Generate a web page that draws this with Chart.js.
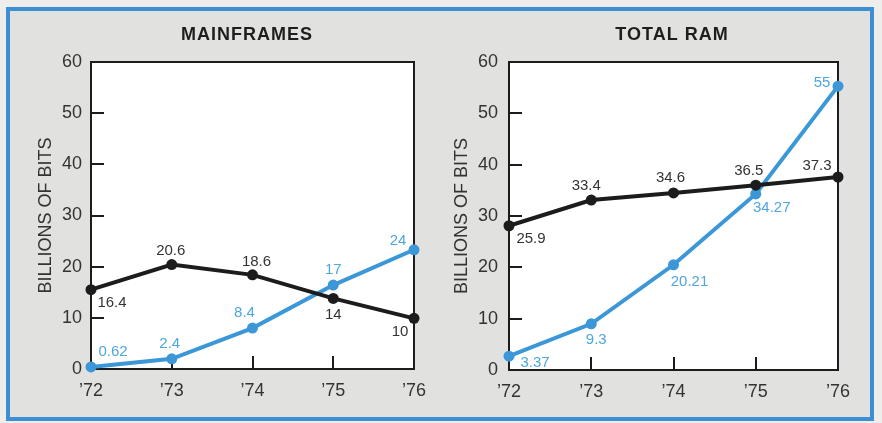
<!DOCTYPE html>
<html>
<head>
<meta charset="utf-8">
<script src="https://cdn.jsdelivr.net/npm/chart.js@4.4.0/dist/chart.umd.min.js"></script>
<style>
  html, body { margin: 0; padding: 0; }
  body { width: 882px; height: 423px; background: #ededeb; position: relative; overflow: hidden; }
  #frame { position: absolute; left: 6px; top: 7px; width: 860px; height: 406px; border: 4px solid #3d8fd3; background: #e1e1df; }
  canvas { position: absolute; top: 0; }
  #mainframes { left: 0; }
  #total-ram { left: 441px; }
</style>
</head>
<body>
<div id="frame"></div>
<canvas id="mainframes" width="441" height="423"></canvas>
<canvas id="total-ram" width="441" height="423"></canvas>
<script>
const years = ['’72', '’73', '’74', '’75', '’76'];
const yTicks = [0, 10, 20, 30, 40, 50, 60];

// heights as plotted in the picture, and the numbers printed beside the points
const mainframeBlack = [15.5, 20.4, 18.4, 13.8, 9.9];
const mainframeBlackLabels = ['16.4', '20.6', '18.6', '14', '10'];
const mainframeBlue = [0.4, 2.0, 8.0, 16.4, 23.3];
const mainframeBlueLabels = ['0.62', '2.4', '8.4', '17', '24'];

const ramBlack = [28.1, 33.1, 34.5, 36.0, 37.6];
const ramBlackLabels = ['25.9', '33.4', '34.6', '36.5', '37.3'];
const ramBlue = [2.7, 9.0, 20.5, 34.3, 55.3];
const ramBlueLabels = ['3.37', '9.3', '20.21', '34.27', '55'];

const DARK = '#1c1c1c';
const BLUE = '#3b97d8';
const TEXT = '#333333';
const BLUE_TEXT = '#4ea6df';
const FONT = "'Liberation Sans', Arial, sans-serif";

// where each printed number sits relative to its point (dx, dy)
const mainBlackPlace = [[21, 13], [-1, -14], [4, -13], [0, 16], [-14, 14]];
const mainBluePlace = [[22, -15], [-2, -15], [-8, -15], [0, -15], [-16, -9]];
const ramBlackPlace = [[22, 13], [-5, -14], [-3, -15], [-7, -14], [-21, -11]];
const ramBluePlace = [[26, 7], [5, 16], [16, 17], [16, 14], [-16, -3]];

const panelFrame = {
    id: 'panelFrame',
    beforeDraw(chart, args, opts) {
        const {ctx, chartArea: a} = chart;
        ctx.save();
        ctx.fillStyle = '#ffffff';
        ctx.fillRect(a.left, a.top, a.width, a.height);
        ctx.fillStyle = '#1e1e1e';
        ctx.font = `bold 18px ${FONT}`;
        ctx.letterSpacing = '1px';
        ctx.textAlign = 'center';
        ctx.textBaseline = 'middle';
        ctx.fillText(opts.title, opts.titleX, opts.titleY);
        ctx.restore();
    },
    beforeDatasetsDraw(chart) {
        const {ctx, chartArea: a, scales: {x, y}} = chart;
        ctx.save();
        ctx.strokeStyle = DARK;
        ctx.lineWidth = 2;
        ctx.strokeRect(a.left, a.top, a.width, a.height);
        ctx.beginPath();
        y.ticks.forEach(t => {
            if (t.value > y.min && t.value < y.max) {
                const py = Math.round(y.getPixelForValue(t.value));
                ctx.moveTo(a.left, py);
                ctx.lineTo(a.left + 13, py);
            }
        });
        for (let i = 1; i < years.length - 1; i++) {
            const px = Math.round(x.getPixelForValue(i));
            ctx.moveTo(px, a.bottom);
            ctx.lineTo(px, a.bottom - 13);
        }
        ctx.stroke();
        ctx.restore();
    },
    afterDatasetsDraw(chart, args, opts) {
        const {ctx} = chart;
        ctx.save();
        ctx.font = `15px ${FONT}`;
        ctx.textAlign = 'center';
        ctx.textBaseline = 'middle';
        opts.notes.forEach((note, di) => {
            const meta = chart.getDatasetMeta(di);
            ctx.fillStyle = note.color;
            meta.data.forEach((pt, i) => {
                const [dx, dy] = note.place[i];
                ctx.fillText(note.labels[i], pt.x + dx, pt.y + dy);
            });
        });
        ctx.restore();
    }
};

const makePanel = (id, cfg) => {
    const series = (data, color) => ({
        data: data,
        borderColor: color,
        backgroundColor: color,
        borderWidth: 4,
        pointRadius: 5.5,
        pointBorderWidth: 0,
        tension: 0,
        clip: false
    });
    return new Chart(document.getElementById(id), {
        type: 'line',
        data: {
            labels: years,
            datasets: [series(cfg.black, DARK), series(cfg.blue, BLUE)]
        },
        options: {
            responsive: false,
            animation: false,
            devicePixelRatio: 1,
            layout: { padding: { left: 0, right: cfg.padRight, top: 62, bottom: cfg.padBottom } },
            plugins: {
                legend: { display: false },
                tooltip: { enabled: false },
                panelFrame: {
                    title: cfg.title,
                    titleX: cfg.titleX,
                    titleY: 35,
                    notes: [
                        { labels: cfg.blackLabels, place: cfg.blackPlace, color: TEXT },
                        { labels: cfg.blueLabels, place: cfg.bluePlace, color: BLUE_TEXT }
                    ]
                }
            },
            scales: {
                x: {
                    type: 'category',
                    offset: false,
                    grid: { display: false, drawTicks: false },
                    border: { display: false },
                    ticks: { font: { family: FONT, size: 18 }, color: TEXT, padding: 11, maxRotation: 0, autoSkip: false },
                    afterFit: s => { s.height = 40; }
                },
                y: {
                    min: yTicks[0],
                    max: yTicks[yTicks.length - 1],
                    grid: { display: false, drawTicks: false },
                    border: { display: false },
                    ticks: { stepSize: yTicks[1] - yTicks[0], font: { family: FONT, size: 18 }, color: TEXT, padding: cfg.tickPad },
                    title: {
                        display: true,
                        text: 'BILLIONS OF BITS',
                        font: { family: FONT, size: 18 },
                        color: TEXT,
                        padding: { top: cfg.axisTitlePad, bottom: 0 }
                    },
                    afterFit: s => { s.width = cfg.axisWidth; }
                }
            }
        },
        plugins: [panelFrame]
    });
};

makePanel('mainframes', {
    title: 'MAINFRAMES', titleX: 247,
    black: mainframeBlack, blackLabels: mainframeBlackLabels, blackPlace: mainBlackPlace,
    blue: mainframeBlue, blueLabels: mainframeBlueLabels, bluePlace: mainBluePlace,
    axisWidth: 91, axisTitlePad: 35, tickPad: 9, padRight: 27, padBottom: 14
});

makePanel('total-ram', {
    title: 'TOTAL RAM', titleX: 231,
    black: ramBlack, blackLabels: ramBlackLabels, blackPlace: ramBlackPlace,
    blue: ramBlue, blueLabels: ramBlueLabels, bluePlace: ramBluePlace,
    axisWidth: 68, axisTitlePad: 10, tickPad: 11, padRight: 44, padBottom: 13
});
</script>
</body>
</html>
